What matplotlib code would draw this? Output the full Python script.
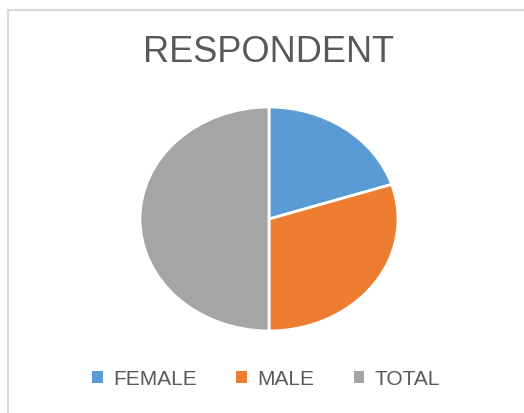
import matplotlib.pyplot as plt
from matplotlib.patches import Patch, Rectangle

plt.rcParams['font.family'] = ['Liberation Sans', 'DejaVu Sans']

# respondentes
categorias = ["FEMALE", "MALE", "TOTAL"]
valores = [20, 30, 50]
cores = ["#5B9BD5", "#ED7D31", "#A5A5A5"]

fig = plt.figure(figsize=(5.24, 4.14), dpi=100)

# moldura clara do grafico
fig.patches.append(Rectangle((8 / 524, -0.01), 1.0, 1 - 11 / 414 + 0.01,
                             transform=fig.transFigure, fill=False,
                             edgecolor="#D9D9D9", linewidth=1.5))

fig.text(0.513, 1 - 53 / 414, "RESPONDENT", ha="center", va="center",
         fontsize=26, color="#595959")

ax = fig.add_axes([140 / 524, 1 - 332 / 414, 258 / 524, 224 / 414])
ax.pie(valores, colors=cores, startangle=90, counterclock=False,
       wedgeprops=dict(edgecolor="white", linewidth=2))
ax.set_aspect("auto")
ax.set_xlim(-1.0, 1.0)
ax.set_ylim(-1.0, 1.0)

handles = [Patch(facecolor=c, edgecolor="none") for c in cores]
fig.legend(handles, categorias, loc="center", bbox_to_anchor=(0.508, 1 - 380 / 414),
           ncol=3, frameon=False, fontsize=15, labelcolor="#595959",
           handlelength=0.5, handleheight=0.5, handletextpad=0.5, columnspacing=1.9)

plt.savefig("out.png", dpi=100)
